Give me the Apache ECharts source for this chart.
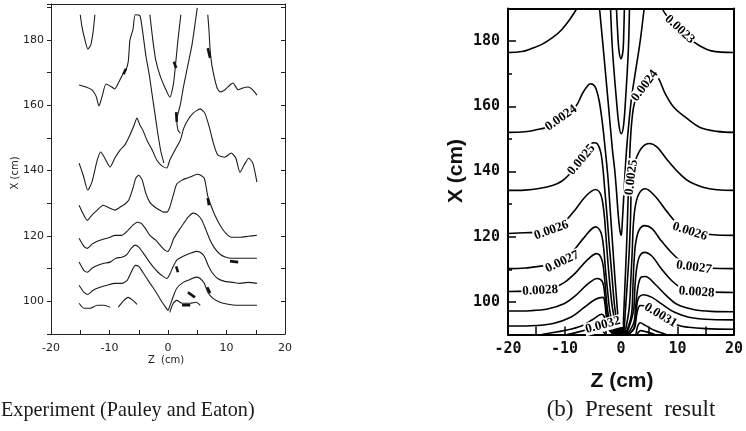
<!DOCTYPE html>
<html><head><meta charset="utf-8">
<script src="https://cdn.jsdelivr.net/npm/echarts@6/dist/echarts.min.js"></script>
<style>html,body{margin:0;padding:0;background:#fff}#c{width:746px;height:431px}</style>
</head><body><div id="c"></div>
<script>
// ---------- tick labels ----------
const xTickLabels = [-20, -10, 0, 10, 20];
const yTickLabels = [100, 120, 140, 160, 180];
const yMinorTicks = [110, 130, 150, 170];

// ---------- (a) Experiment: contour lines, points [Z (cm), X (cm)] ----------
const expTopU = [[-15.0,187.7],[-14.7,184.0],[-14.2,180.0],[-13.7,177.2],[-13.2,178.5],[-12.8,182.5],[-12.5,187.7]];
const expRow0Left = [[-15.2,166.2],[-14.0,165.6],[-13.0,164.7],[-12.3,162.8],[-11.8,159.8],[-11.3,162.5],[-10.6,166.5],[-9.9,165.9],[-9.1,165.0],[-8.4,167.1],[-7.7,169.6],[-7.2,170.8],[-6.8,173.3],[-6.5,180.0],[-6.0,183.1],[-5.6,187.7],[-4.8,187.4],[-4.3,182.1],[-3.8,175.4],[-3.2,169.3],[-2.7,163.1],[-2.2,157.0],[-1.7,150.9],[-1.2,145.7],[-0.7,142.3]];
const expRow0Mid = [[-3.1,187.7],[-2.6,180.0],[-2.1,173.9],[-1.4,169.3],[-0.5,165.3],[0.3,162.5],[0.9,166.2],[1.2,170.8],[1.7,180.0],[2.2,187.7]];
const expRow0Drop = [[5.0,189.8],[4.6,184.6],[4.1,178.5],[3.4,172.3],[2.7,166.2],[2.1,160.1],[1.5,155.5],[1.7,152.4],[2.1,151.5]];
const expRow0Right = [[6.8,187.7],[7.0,183.1],[7.2,176.9],[7.5,172.3],[7.9,168.7],[8.4,165.3],[8.9,164.1],[9.7,164.7],[10.6,166.2],[11.1,166.8],[12.0,164.7],[12.8,165.3],[13.7,165.6],[14.5,164.7],[15.2,163.1]];
const expRow1 = [[-15.2,142.3],[-14.5,138.6],[-13.7,134.0],[-13.0,136.5],[-12.1,143.2],[-11.5,145.7],[-10.8,143.8],[-9.9,141.1],[-9.1,143.8],[-8.2,146.3],[-7.4,147.8],[-6.5,150.9],[-5.8,153.9],[-5.3,156.1],[-4.8,153.9],[-4.3,152.4],[-3.6,149.3],[-2.7,146.3],[-1.9,143.2],[-1.0,141.4],[-0.2,140.8],[0.3,143.2],[1.2,146.3],[2.1,149.3],[2.7,153.0],[3.4,155.5],[4.3,157.6],[5.5,158.9],[6.3,157.6],[7.2,152.4],[7.7,148.7],[8.5,144.8],[9.7,144.1],[10.8,145.4],[11.6,143.8],[12.3,139.5],[13.0,141.7],[13.8,143.8],[14.5,142.3],[15.2,136.5]];
const expRow2 = [[-15.2,129.4],[-14.4,126.4],[-13.8,124.8],[-13.0,126.4],[-12.1,127.9],[-11.1,129.4],[-9.9,128.5],[-9.1,127.9],[-8.2,128.8],[-7.4,129.7],[-6.7,131.0],[-6.0,134.6],[-5.5,137.7],[-5.0,138.6],[-4.4,137.1],[-3.8,133.1],[-3.1,130.3],[-2.2,128.8],[-1.4,127.9],[-0.7,127.3],[-0.2,127.3],[0.3,128.8],[0.9,132.5],[1.5,135.9],[2.4,137.1],[3.2,137.7],[4.1,138.3],[5.0,138.9],[5.6,138.6],[6.2,137.7],[6.5,135.2],[6.8,132.2],[7.4,129.1],[8.0,126.4],[8.9,123.3],[9.9,120.8],[10.9,119.6],[12.3,119.6],[13.7,119.9],[15.2,120.2]];
const expRow3 = [[-15.2,119.3],[-14.4,116.9],[-13.8,116.2],[-13.0,117.5],[-12.1,118.4],[-11.1,119.0],[-9.9,119.6],[-9.1,120.2],[-7.9,120.2],[-6.8,121.8],[-6.0,123.3],[-5.3,124.2],[-4.6,123.9],[-3.9,122.4],[-3.1,120.2],[-2.1,118.7],[-1.2,116.9],[-0.5,115.6],[0,115.3],[0.5,116.9],[1.0,119.3],[1.9,121.8],[2.7,123.9],[3.4,125.7],[4.3,127.0],[5.1,126.4],[5.8,124.8],[6.5,121.8],[7.2,118.7],[8.0,116.2],[8.9,114.4],[9.9,113.5],[10.9,113.2],[12.3,113.2],[13.7,113.2],[15.2,113.2]];
const expRow4 = [[-15.2,112.0],[-14.4,109.5],[-13.8,108.9],[-13.0,110.1],[-12.1,111.0],[-11.1,111.6],[-9.9,112.0],[-8.9,113.2],[-7.9,113.5],[-7.0,114.4],[-6.3,116.2],[-5.6,117.2],[-5.0,116.6],[-4.3,115.0],[-3.4,112.6],[-2.6,110.7],[-1.7,108.9],[-0.9,107.7],[-0.2,107.0],[0.3,108.3],[0.9,110.7],[1.5,112.6],[2.6,113.8],[3.8,114.7],[4.8,115.3],[5.5,115.0],[6.2,113.8],[6.8,111.3],[7.5,108.9],[8.5,107.0],[9.7,106.1],[11.1,105.8],[12.3,105.5],[13.7,105.8],[15.2,105.5]];
const expRow5 = [[-15.2,104.9],[-14.4,102.8],[-13.7,102.1],[-12.8,103.4],[-11.6,104.3],[-10.4,104.9],[-9.1,105.5],[-7.9,105.5],[-7.0,106.4],[-6.3,108.9],[-5.6,111.0],[-5.0,110.7],[-4.3,108.9],[-3.4,106.4],[-2.6,104.3],[-1.7,101.8],[-1.0,99.7],[-0.3,97.9],[0,97.2],[0.3,98.5],[0.9,101.5],[1.5,104.0],[2.6,105.8],[3.8,106.7],[4.8,107.4],[5.5,107.0],[6.2,105.5],[6.8,102.8],[7.7,100.9],[8.9,99.7],[10.3,99.1],[11.6,98.8],[13.2,98.8],[15.2,98.8]];
const expRow6a = [[-15.2,99.4],[-14.4,97.9],[-13.3,97.9],[-12.1,98.8],[-10.9,98.8],[-9.9,98.2]];
const expRow6b = [[-8.5,98.2],[-7.7,100.0],[-6.8,101.2],[-6.0,100.3],[-5.3,99.1]];
const expRow6c = [[0.3,96.6],[0.9,99.4],[1.5,100.3],[2.4,99.4],[3.8,99.4],[4.8,99.7],[5.5,98.8]];
// small contour-label dashes of the experimental plot
const expMarks = [
  [[-7.6,169.5],[-7.2,171.2]], [[1.0,173.3],[1.4,171.4]], [[1.4,157.9],[1.5,154.9]],
  [[6.8,177.5],[7.2,174.5]], [[6.8,131.6],[7.0,129.4]], [[1.4,110.7],[1.7,108.9]],
  [[3.4,102.8],[4.6,101.2]], [[6.7,104.3],[7.2,102.5]], [[10.6,112.3],[12.0,112.0]],
  [[2.4,98.8],[3.8,98.8]]
];

// ---------- (b) Present result: contour lines, points [Z (cm), X (cm)] ----------
const c23L = [[-20,176.5],[-17.5,176.8],[-16,177.6],[-14,179],[-12,181.2],[-10.5,183.5],[-9.2,186.3],[-7.8,190]];
const c23R = [[7.3,190],[8,188],[10,184.5],[12,181],[14,178.5],[16,177],[20,176.5]];
const cTopInner = [[-0.8,190],[-0.6,183],[-0.35,177],[0,174.6],[0.35,177],[0.5,183],[0.6,190]];
const cTopMid = [[-1.85,190],[-1.5,177.1],[-0.8,161.8],[-0.35,154.1],[0.05,151.6],[0.45,154.1],[0.8,161.8],[1.3,177.1],[1.5,190]];
const cTopOuter = [[-3.8,190],[-3.1,177.1],[-2.3,161.8],[-1.5,146.4],[-1.1,140.3],[-0.8,134],[-0.5,127],[-0.2,122],[0.05,120.4],[0.25,125],[0.45,131],[0.7,139],[1.0,147],[1.4,155],[1.9,163],[2.6,171],[3.4,180],[4.1,190]];
const c24L = [[-20,152],[-17,152.2],[-15,152.8],[-13.2,153.6],[-10.6,156.4],[-8,160],[-6.8,164],[-5.9,166.3],[-5.4,166.9],[-4.6,166],[-3.9,162],[-3.3,155],[-2.8,147],[-2.3,138],[-1.9,128],[-1.5,118],[-1.1,108],[-0.7,99],[-0.3,90]];
const c25L = [[-20,134.2],[-17,134.3],[-14.5,134.8],[-12,135.8],[-10.5,137],[-9.2,139],[-7.5,142.5],[-6,146.5],[-4.9,148.8],[-4.2,148.5],[-3.6,146],[-3.2,141],[-2.85,134],[-2.45,126],[-2.05,117],[-1.6,108],[-1.15,99],[-0.45,90]];
const c26L = [[-20,121],[-17,121.2],[-14.5,121.4],[-12.3,122.2],[-10,124.6],[-8,128.5],[-6.2,132.5],[-4.5,134.5],[-3.6,133],[-3.05,128],[-2.7,121],[-2.35,113],[-1.95,105],[-1.5,98],[-0.6,90]];
const c27L = [[-20,110.2],[-17,110.4],[-14.5,110.9],[-12.5,111.5],[-10.4,112.4],[-8.5,115.5],[-6.5,119.8],[-4.5,123],[-3.6,121.5],[-3.1,117],[-2.75,110],[-2.35,103],[-1.85,96],[-0.75,90]];
const c28L = [[-20,103.2],[-17,103.3],[-14.3,103.5],[-12,104.3],[-10,106],[-8,109],[-6,112.8],[-4.3,114.8],[-3.4,113],[-2.95,108],[-2.6,101],[-2.1,95],[-0.9,90]];
const c29L = [[-20,97.2],[-16,97.3],[-13,97.8],[-10,99.5],[-8,102],[-6,105.3],[-4.2,107.2],[-3.3,106.2],[-2.85,102],[-2.5,96.5],[-2.0,92.5],[-1.05,90]];
const c30L = [[-20,92.6],[-16,92.7],[-12,93.4],[-9,95.2],[-6.5,98.3],[-4.5,100.8],[-3.2,101.4],[-2.85,99.5],[-2.6,95.5],[-2.2,92],[-1.2,90]];
const c31L = [[-14,90],[-10,91.2],[-7,92.6],[-5,94.6],[-3.4,96.2],[-2.9,95.2],[-2.55,92.5],[-1.35,90]];
const c32L = [[-9.5,90],[-7.5,90.8],[-5.5,91.9],[-4,92.8],[-3.3,93.1],[-2.85,92.2],[-2.6,90]];
const c33L = [[-6,90],[-4.5,90.7],[-3.5,91.1],[-3.0,90.6],[-2.85,90]];
const c24R = [[20,152],[17,152.3],[14,153.5],[11.5,156.5],[9.4,159.6],[7.8,164],[6.8,168],[6.0,170],[5.2,169.5],[4.2,166.5],[3.2,163.5],[2.4,161],[1.95,156],[1.65,149],[1.45,140],[1.25,131],[1.05,120],[0.8,109],[0.55,99],[0.35,90]];
const c25R = [[20,134.2],[17,134.4],[14.5,135.2],[12,137],[10,140],[8,144],[6.4,147.5],[5,148.6],[4.1,148],[3.2,146],[2.5,143],[2.0,139],[1.8,134],[1.7,126],[1.5,117],[1.2,108],[0.85,99],[0.5,90]];
const c26R = [[20,120.4],[17,120.5],[14.5,121],[12.2,121.9],[10,124],[8,128],[6,132.5],[4.3,134.7],[3.3,133.5],[2.6,130],[2.2,124],[2.0,116],[1.75,107],[1.45,98],[0.65,90]];
const c27R = [[20,110.2],[16,110.3],[12.9,110.6],[11,112],[9,115],[7,119],[5.5,122.5],[4.2,123.4],[3.2,122],[2.6,118],[2.3,112],[2.1,104],[1.85,96],[0.8,90]];
const c28R = [[20,102.9],[16,103],[13.4,103],[11,104],[9,106.5],[7,110.5],[5.5,114],[4.2,115.2],[3.3,114],[2.75,110],[2.45,104],[2.2,97],[0.95,90]];
const c29R = [[20,97],[16,97.1],[13,97.6],[10,99.2],[8,102],[6,105.5],[4.3,107.8],[3.5,107.5],[2.95,104],[2.6,98.5],[2.25,93.5],[1.1,90]];
const c30R = [[20,94.5],[16,94.6],[12,95.3],[9.5,96.8],[7.5,99],[5.5,101.4],[4.0,102.2],[3.2,101.5],[2.85,99.5],[2.6,95.5],[2.3,92],[1.25,90]];
const c31R = [[20,91.6],[15,91.8],[12,92.2],[10,92.9],[7,95.8],[4.5,98.6],[3.4,98.9],[2.95,97.5],[2.65,94.5],[2.4,92],[1.4,90]];
const c32R = [[8,90],[6,91.2],[4.3,92.8],[3.4,93.6],[2.95,92.5],[2.65,90]];
const c33R = [[6,90],[4.5,90.8],[3.5,91.2],[3.05,90.6],[2.9,90]];
const cBlob = [[-1.4,90],[0.7,92.3]];

// contour level labels of (b)
const levelText = ['0.0023','0.0024','0.0024','0.0025','0.0025','0.0026','0.0026','0.0027','0.0027','0.0028','0.0028','0.0031','0.0032'];
const levelAt = [[10.4,183.6],[-10.6,156.4],[4.2,166.3],[-7.0,143.6],[1.85,138.2],[-12.3,122.0],[12.2,121.6],[-10.4,112.3],[12.9,110.6],[-14.3,103.5],[13.4,103.0],[7.0,95.9],[-3.2,92.9]];
const levelAngle = [-43,35,53,50,83,20,-18,25,-8,3,-4,-31,15];

// ---------- chart ----------
const chart = echarts.init(document.getElementById('c'), null, {renderer: 'canvas'});

const expLines = [expTopU, expRow0Left, expRow0Mid, expRow0Drop, expRow0Right, expRow1, expRow2, expRow3, expRow4, expRow5, expRow6a, expRow6b, expRow6c];
const simLines = [c23L, c23R, cTopInner, cTopMid, cTopOuter,
  c24L, c25L, c26L, c27L, c28L, c29L, c30L, c31L, c32L, c33L,
  c24R, c25R, c26R, c27R, c28R, c29R, c30R, c31R, c32R, c33R];

const series = [];
expLines.forEach(d => series.push({
  type: 'line', xAxisIndex: 0, yAxisIndex: 0, data: d, symbol: 'none', smooth: 0.2,
  lineStyle: {color: '#1c1c1c', width: 1.1}, silent: true, animation: false, z: 3
}));
expMarks.forEach(d => series.push({
  type: 'line', xAxisIndex: 0, yAxisIndex: 0, data: d, symbol: 'none',
  lineStyle: {color: '#111', width: 2.6}, silent: true, animation: false, z: 4
}));
simLines.forEach((d, i) => series.push({
  type: 'line', xAxisIndex: 2, yAxisIndex: 2, data: d, symbol: 'none', smooth: 0.35,
  lineStyle: {color: '#000', width: 1.6}, silent: true, animation: false, z: 3,
  markArea: i === 0 ? {silent: true, itemStyle: {color: '#000', opacity: 1},
    data: [[{coord: cBlob[0]}, {coord: cBlob[1]}]]} : undefined
}));

const thinLine = {show: true, onZero: false, lineStyle: {color: '#222', width: 1}};
const thickLine = {show: true, onZero: false, lineStyle: {color: '#000', width: 2}};
const noSplit = {show: false};

const option = {
  animation: false,
  backgroundColor: '#fff',
  grid: [
    {left: 51, top: 4, width: 234, height: 330},
    {left: 508, top: 8.5, width: 230, height: 326}
  ],
  xAxis: [
    {gridIndex: 0, type: 'value', min: -20, max: 20, interval: 5, position: 'bottom',
      axisLine: thinLine, splitLine: noSplit,
      axisTick: {inside: true, length: 4, lineStyle: {color: '#222'}},
      axisLabel: {showMinLabel: true, showMaxLabel: true, margin: 9, color: '#222', fontSize: 11, fontFamily: 'DejaVu Sans',
        formatter: v => xTickLabels.includes(v) ? String(v) : ''}},
    {gridIndex: 0, type: 'value', min: -20, max: 20, position: 'top',
      axisLine: thinLine, splitLine: noSplit, axisTick: {show: false}, axisLabel: {show: false}},
    {gridIndex: 1, type: 'value', min: -20, max: 20, interval: 5, position: 'bottom',
      axisLine: thickLine, splitLine: noSplit,
      axisTick: {inside: true, length: 8, lineStyle: {color: '#000', width: 1.5}},
      axisLabel: {showMinLabel: true, showMaxLabel: true, margin: 7, color: '#111', fontSize: 15, fontWeight: 'bold', fontFamily: 'DejaVu Sans Mono',
        formatter: v => xTickLabels.includes(v) ? String(v) : ''}},
    {gridIndex: 1, type: 'value', min: -20, max: 20, position: 'top',
      axisLine: thickLine, splitLine: noSplit, axisTick: {show: false}, axisLabel: {show: false}}
  ],
  yAxis: [
    {gridIndex: 0, type: 'value', min: 90, max: 191, interval: 10, position: 'left',
      axisLine: thinLine, splitLine: noSplit,
      axisTick: {inside: false, length: 4, lineStyle: {color: '#222'}},
      axisLabel: {margin: 7, color: '#222', fontSize: 11, fontFamily: 'DejaVu Sans',
        formatter: v => yTickLabels.includes(v) ? String(v) : ''}},
    {gridIndex: 0, type: 'value', min: 90, max: 191, interval: 10, position: 'right',
      axisLine: thinLine, splitLine: noSplit,
      axisTick: {inside: true, length: 4, lineStyle: {color: '#222'}}, axisLabel: {show: false}},
    {gridIndex: 1, type: 'value', min: 90, max: 190, interval: 10, position: 'left',
      axisLine: thickLine, splitLine: noSplit,
      axisTick: {inside: true, length: 8, customValues: yTickLabels, lineStyle: {color: '#000', width: 1.5}},
      axisLabel: {margin: 8, color: '#111', fontSize: 15, fontWeight: 'bold', fontFamily: 'DejaVu Sans Mono',
        customValues: yTickLabels, formatter: v => yTickLabels.includes(v) ? String(v) : ''}},
    {gridIndex: 1, type: 'value', min: 90, max: 190, position: 'right',
      axisLine: thickLine, splitLine: noSplit, axisTick: {show: false}, axisLabel: {show: false}},
    {gridIndex: 1, type: 'value', min: 90, max: 190, interval: 10, position: 'left',
      axisLine: {show: false, onZero: false}, splitLine: noSplit,
      axisTick: {inside: true, length: 4, customValues: yMinorTicks, lineStyle: {color: '#000', width: 1.5}},
      axisLabel: {show: false}}
  ],
  series: series
};
chart.setOption(option);

// ---------- texts ----------
const g = [];
function txt(text, x, y, font, opts) {
  opts = opts || {};
  g.push({
    type: 'text', x: x, y: y, rotation: opts.rot || 0, scaleX: opts.sx || 1, z: 100, silent: true,
    style: {text: text, x: 0, y: 0, font: font, fill: opts.fill || '#111',
      textAlign: opts.align || 'center', textVerticalAlign: 'middle', align: opts.align || 'center', verticalAlign: 'middle',
      backgroundColor: opts.bg, padding: opts.bg ? [0, 1] : 0}
  });
}
// axis titles
txt('X (cm)', 15, 173, '10px "DejaVu Sans"', {rot: Math.PI / 2, fill: '#222'});
txt('Z  (cm)', 166, 360, '10px "DejaVu Sans"', {fill: '#222'});
txt('X (cm)', 456, 171, 'bold 21px "Liberation Sans"', {rot: Math.PI / 2});
txt('Z (cm)', 622, 381, 'bold 21px "Liberation Sans"');
// captions
txt('Experiment (Pauley and Eaton)', 1, 410, '21px "Liberation Serif"', {align: 'left', fill: '#1a1a1a', sx: 0.96});
txt('(b)  Present  result', 631, 410, '23px "Liberation Serif"', {fill: '#1a1a1a'});
// contour level labels placed through the axes of panel (b)
levelText.forEach((t, i) => {
  const p = chart.convertToPixel({xAxisIndex: 2, yAxisIndex: 2}, levelAt[i]);
  txt(t, p[0], p[1], 'bold 13px "Liberation Serif"', {rot: levelAngle[i] * Math.PI / 180, bg: '#fff', fill: '#000'});
});
chart.setOption({graphic: {elements: g}});
</script></body></html>
